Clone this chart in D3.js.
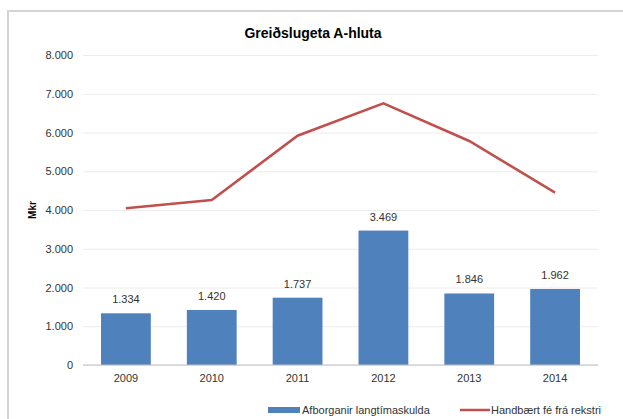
<!DOCTYPE html>
<html>
<head>
<meta charset="utf-8">
<script src="https://cdn.jsdelivr.net/npm/d3@7"></script>
<style>
	body { margin: 0; background: #fff; }
	svg { display: block; font-family: "Liberation Sans", Arial, sans-serif; }
</style>
</head>
<body>
<div id="chart"></div>
<script>
	// chart data
	var years = ["2009", "2010", "2011", "2012", "2013", "2014"];
	var afborganir = [1334, 1420, 1737, 3469, 1846, 1962];
	var handbaert = [4044, 4258, 5917, 6753, 5781, 4447];
	var yTicks = [0, 1000, 2000, 3000, 4000, 5000, 6000, 7000, 8000];
	var seriesNames = ["Afborganir langtímaskulda", "Handbært fé frá rekstri"];

	var W = 623, H = 419;
	var fmt = function (v) { return d3.format(",")(v).replace(/,/g, "."); };

	var svg = d3.select("#chart")
		.append("svg")
		.attr("width", W)
		.attr("height", H);

	// outer frame (cut off at right and bottom like the picture)
	svg.append("rect")
		.attr("x", 8)
		.attr("y", 11)
		.attr("width", W + 20)
		.attr("height", H + 20)
		.attr("fill", "#fff")
		.attr("stroke", "#d4d4d4")
		.attr("stroke-width", 2);

	// plot area
	var plot = { left: 83, right: 598, top: 55, bottom: 365 };

	var x = d3.scaleBand().domain(years).range([plot.left, plot.right]).paddingInner(0.42).paddingOuter(0.21);
	var y = d3.scaleLinear().domain([0, 8000]).range([plot.bottom, plot.top]);

	// gridlines + y labels
	var yAxis = svg.append("g")
		.attr("transform", "translate(" + plot.left + ",0)")
		.call(d3.axisLeft(y).tickValues(yTicks).tickFormat(fmt).tickSize(-(plot.right - plot.left)).tickPadding(10));
	yAxis.select(".domain").remove();
	yAxis.selectAll(".tick line").attr("stroke", "#ececec");
	yAxis.selectAll(".tick text")
		.attr("fill", "#333")
		.style("font-size", "11px");

	svg.append("text")
		.attr("transform", "translate(36," + 210 + ") rotate(-90)")
		.attr("text-anchor", "middle")
		.style("font-size", "10px")
		.style("font-weight", "bold")
		.text("Mkr");

	// bars
	svg.selectAll("rect.bar")
		.data(afborganir)
		.enter()
		.append("rect")
		.attr("class", "bar")
		.attr("x", function (d, i) { return x(years[i]); })
		.attr("y", function (d) { return y(d); })
		.attr("width", x.bandwidth())
		.attr("height", function (d) { return plot.bottom - y(d); })
		.attr("fill", "#4f81bd");

	svg.selectAll("text.label")
		.data(afborganir)
		.enter()
		.append("text")
		.attr("class", "label")
		.attr("x", function (d, i) { return x(years[i]) + x.bandwidth() / 2; })
		.attr("y", function (d) { return y(d) - 10; })
		.attr("text-anchor", "middle")
		.attr("fill", "#333")
		.style("font-size", "11px")
		.text(fmt);

	// x axis
	var xAxis = svg.append("g")
		.attr("transform", "translate(0," + plot.bottom + ")")
		.call(d3.axisBottom(x).tickSize(0).tickPadding(9));
	xAxis.select(".domain").attr("stroke", "#bfbfbf").attr("d", "M" + plot.left + ",0H" + plot.right);
	xAxis.selectAll(".tick text")
		.attr("fill", "#333")
		.style("font-size", "11px");

	// line
	var line = d3.line()
		.x(function (d, i) { return x(years[i]) + x.bandwidth() / 2; })
		.y(function (d) { return y(d); });

	svg.append("path")
		.datum(handbaert)
		.attr("d", line)
		.attr("fill", "none")
		.attr("stroke", "#c0504d")
		.attr("stroke-width", 2.5);

	// title
	svg.append("text")
		.attr("x", 313)
		.attr("y", 38)
		.attr("text-anchor", "middle")
		.style("font-size", "14px")
		.style("font-weight", "bold")
		.text("Greiðslugeta A-hluta");

	// legend
	var lg = svg.append("g").style("font-size", "11px").attr("fill", "#333");
	lg.append("rect").attr("x", 268).attr("y", 407).attr("width", 32).attr("height", 6).attr("fill", "#4f81bd");
	lg.append("text").attr("x", 302).attr("y", 414).text(seriesNames[0]);
	lg.append("line").attr("x1", 460).attr("x2", 490).attr("y1", 410).attr("y2", 410)
		.attr("stroke", "#c0504d").attr("stroke-width", 2.5);
	lg.append("text").attr("x", 491).attr("y", 414).text(seriesNames[1]);
</script>
</body>
</html>
